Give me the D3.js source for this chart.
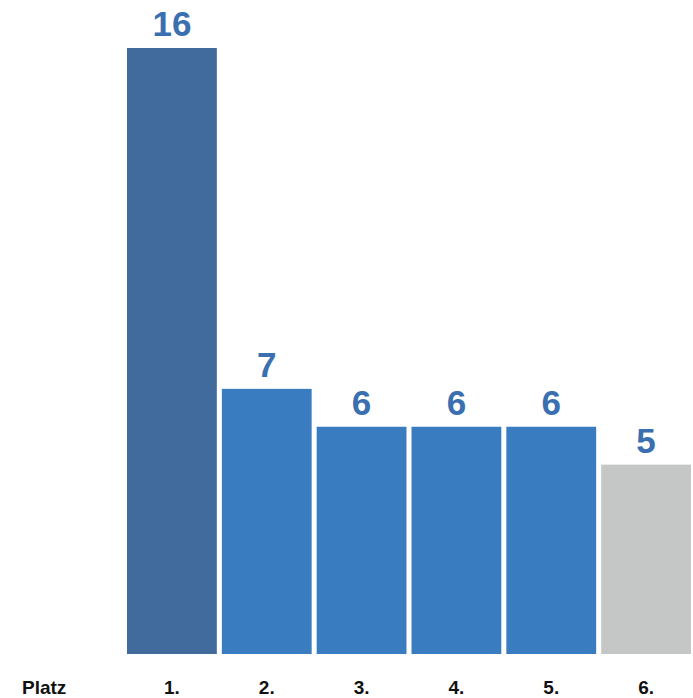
<!DOCTYPE html>
<html>
<head>
<meta charset="utf-8">
<script src="https://cdn.jsdelivr.net/npm/d3@7"></script>
<style>
  html, body { margin: 0; padding: 0; background: #fff; }
</style>
</head>
<body>
<svg id="chart"></svg>
<script>
var categories = ["1.", "2.", "3.", "4.", "5.", "6."];
var values = [16, 7, 6, 6, 6, 5];
var barColors = ["#416b9c", "#397cbf", "#397cbf", "#397cbf", "#397cbf", "#c5c7c7"];
var axisTitle = "Platz";

var width = 693, height = 698;
var baseY = 654;

var svg = d3.select("#chart")
    .attr("width", width)
    .attr("height", height);

var x = d3.scaleBand()
    .domain(categories)
    .range([124.5, 693.5])
    .paddingInner(0.053)
    .paddingOuter(0.0265);

var y = d3.scaleLinear()
    .domain([0, 16])
    .range([baseY, 48]);

var data = categories.map(function(c, i) { return {cat: c, v: values[i], color: barColors[i]}; });

var bars = svg.selectAll(".bar")
    .data(data)
  .enter().append("g")
    .attr("class", "bar");

bars.append("rect")
    .attr("x", function(d) { return x(d.cat); })
    .attr("y", function(d) { return y(d.v); })
    .attr("width", x.bandwidth())
    .attr("height", function(d) { return baseY - y(d.v); })
    .style("fill", function(d) { return d.color; });

bars.append("text")
    .attr("x", function(d) { return x(d.cat) + x.bandwidth() / 2; })
    .attr("y", function(d) { return y(d.v) - 12; })
    .style("font", "bold 35px 'Liberation Sans', Arial, sans-serif")
    .style("fill", "#3a6fb0")
    .style("text-anchor", "middle")
    .text(function(d) { return d.v; });

// category labels
var xAxis = d3.axisBottom(x).tickSize(0).tickPadding(0);
var axisG = svg.append("g")
    .attr("transform", "translate(0," + 680 + ")")
    .call(xAxis);
axisG.select(".domain").remove();
axisG.selectAll("text")
    .attr("dy", "0.71em")
    .style("font", "bold 19px 'Liberation Sans', Arial, sans-serif")
    .style("fill", "#111");

svg.append("text")
    .attr("x", 22)
    .attr("y", 694)
    .style("font", "bold 19px 'Liberation Sans', Arial, sans-serif")
    .style("fill", "#111")
    .text(axisTitle);
</script>
</body>
</html>
